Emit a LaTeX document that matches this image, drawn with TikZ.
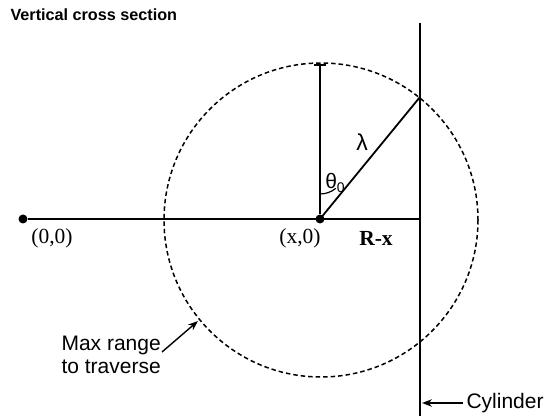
\documentclass[tikz,border=0pt]{standalone}
\usepackage{fontspec}
\setmainfont{Liberation Serif}
\setsansfont{Liberation Sans}
\usetikzlibrary{arrows.meta, positioning, calc}

\begin{document}
\begin{tikzpicture}[
    x=1pt, y=-1pt,
    every node/.style={font=\fontsize{21.5}{24}\selectfont},
    dot/.style={circle, fill=black, inner sep=0pt, minimum size=9pt},
    axis/.style={line width=1.4pt},
    maxcircle/.style={line width=1.5pt, dash pattern=on 4.5pt off 3pt},
    wall/.style={line width=2.6pt},
    arrow/.style={-{Stealth[length=10pt, width=7.5pt]}, line width=1.4pt},
    sanslabel/.style={font=\sffamily\fontsize{21}{23}\selectfont, align=left},
]
\useasboundingbox (0,0) rectangle (551,419);

% Title
\node[anchor=west, font=\sffamily\bfseries\fontsize{16.2}{19}\selectfont] (title) at (7,15) {Vertical cross section};

% Points
\node[dot] (origin) at (23,219) {};
\node[dot] (centre) at (320,219) {};
\coordinate (top) at (320,65);
\coordinate (foot) at (420,219);
\coordinate (hit) at (420,97);
\coordinate (cyltop) at (420,23);
\coordinate (cylbot) at (420,416);

% Max range circle
\draw[maxcircle] (321,220) circle (157);

% Lines
\draw[axis] (origin) -- (foot);
\draw[axis] (centre) -- (top);
\draw[axis] ($(top)+(-6,0)$) -- ($(top)+(6,0)$);
\draw[line width=1.8pt] (centre.center) -- (hit);
\draw[line width=1.2pt] ($(centre.center)+(0,-25)$) arc[start angle=90, end angle=50.7, radius=25];
\draw[wall] (cyltop) -- (cylbot);

% Labels
\node (olabel) at (52,238) {(0,0)};
\node (xlabel) at (300,238) {(x,0)};
\node[font=\bfseries\fontsize{21.5}{24}\selectfont] (rx) at (376,238) {R-x};
\node[font=\sffamily\fontsize{23}{24}\selectfont] (lambda) at (362,142) {λ};
\node[font=\sffamily\fontsize{21}{24}\selectfont] (theta) at (335,183) {θ\raisebox{-0.35ex}{\fontsize{14}{14}\selectfont 0}};

% Annotations
\node[sanslabel, anchor=west] (maxrange) at (58,355) {Max range\\to traverse};
\draw[arrow] (162,352) -- (198,321);
\node[sanslabel, anchor=west] (cyl) at (463,403) {Cylinder};
\draw[arrow] (cyl.west) -- (422,403);

\end{tikzpicture}
\end{document}
